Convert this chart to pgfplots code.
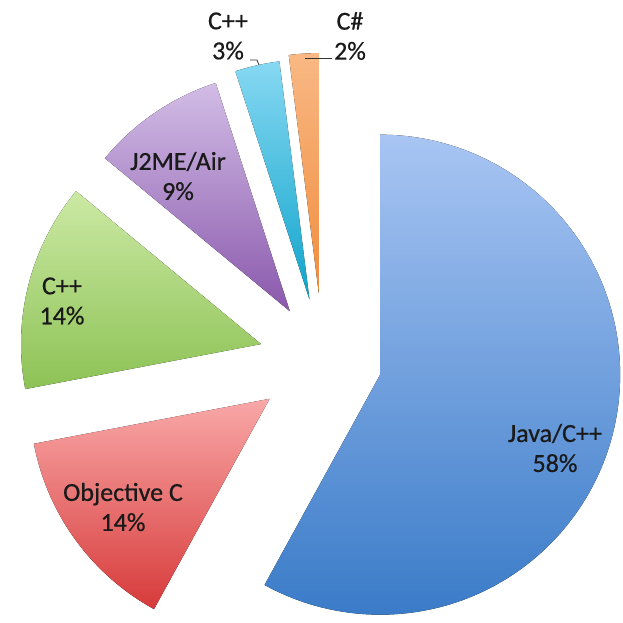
\documentclass[border=0pt]{standalone}
\usepackage{pgfplots}
\usepackage{pgfplotstable}
\usepackage{fontspec}
\setmainfont{Carlito}
\newfontfamily\labfont{Carlito}[FakeBold=0.6]
\pgfplotsset{compat=1.18}

\definecolor{top0}{HTML}{A8C5F3}\definecolor{bot0}{HTML}{3A7BC8}
\definecolor{top1}{HTML}{F9A8A8}\definecolor{bot1}{HTML}{D73A3A}
\definecolor{top2}{HTML}{CBE9A4}\definecolor{bot2}{HTML}{8DC255}
\definecolor{top3}{HTML}{D2BDE6}\definecolor{bot3}{HTML}{8A58AC}
\definecolor{top4}{HTML}{86D8F2}\definecolor{bot4}{HTML}{10A4CB}
\definecolor{top5}{HTML}{F9B884}\definecolor{bot5}{HTML}{F08D3E}
\definecolor{txt}{HTML}{1A1A1A}

% share (percent) and how far each slice is pulled out (pt)
\pgfplotstableread[col sep=comma]{
value,explode
58,59
14,66
14,64
9,59
3,62
2,67
}\slices

\begin{document}
\begin{tikzpicture}
\begin{axis}[x=1pt,y=1pt,xmin=0,xmax=623,ymin=0,ymax=623,hide axis,clip=false]
\path (axis cs:0,0) rectangle (axis cs:623,623);
\def\cum{0}
\pgfplotsforeachungrouped \i in {0,...,5}{%
  \pgfplotstablegetelem{\i}{value}\of\slices \let\v\pgfplotsretval
  \pgfplotstablegetelem{\i}{explode}\of\slices \let\e\pgfplotsretval
  \pgfmathsetmacro\sa{90-3.6*\cum}%
  \pgfmathsetmacro\ea{\sa-3.6*\v}%
  \pgfmathsetmacro\md{(\sa+\ea)/2}%
  \pgfmathsetmacro\tx{323+\e*cos(\md)}%
  \pgfmathsetmacro\ty{263+\e*sin(\md)}%
  \edef\temp{\noexpand\fill[top color=top\i, bottom color=bot\i] (axis cs:\tx,\ty) -- ++(\sa:240pt) arc[start angle=\sa, end angle=\ea, radius=240pt] -- cycle;}%
  \temp
  \pgfmathsetmacro\cum{\cum+\v}%
}
\tikzset{lab/.style={align=center,text=txt,font=\labfont\fontsize{26}{30}\selectfont}}
\node[lab] at (axis cs:555,175) {Java/C++\\58\%};
\node[lab] at (axis cs:123,116) {Objective C\\14\%};
\node[lab] at (axis cs:62,322) {C++\\14\%};
\node[lab] at (axis cs:178,447) {J2ME/Air\\9\%};
\node[lab] at (axis cs:228,587) {C++\\3\%};
\node[lab] at (axis cs:350,587) {C\#\\2\%};
\draw[black!80,line width=0.8pt] (axis cs:250,563) -- (axis cs:257,563) -- (axis cs:259,558);
\draw[black!80,line width=0.8pt] (axis cs:305,565) -- (axis cs:332,565);
\end{axis}
\end{tikzpicture}
\end{document}
